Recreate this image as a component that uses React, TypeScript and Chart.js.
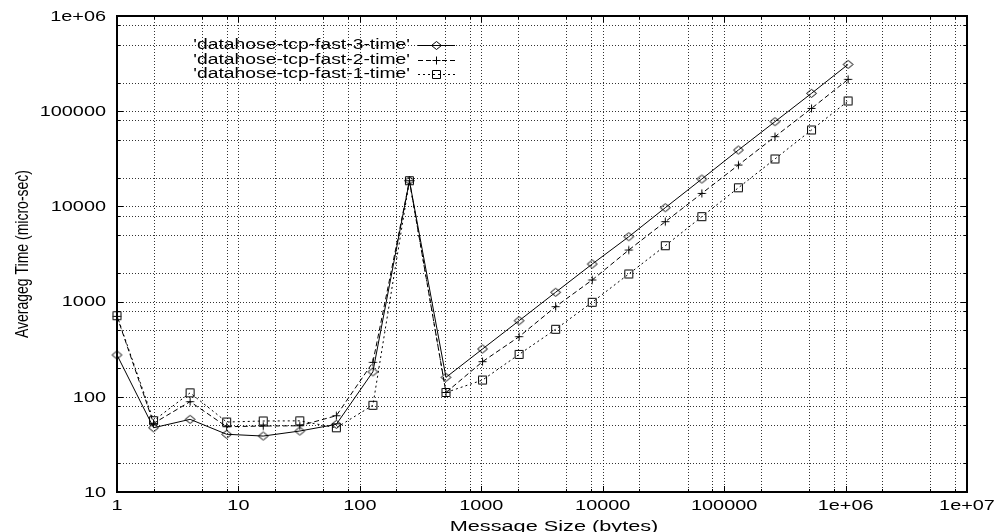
import React, { useEffect, useRef } from "react";
import { Chart, registerables } from "chart.js";

Chart.register(...registerables);

// ---- data ----
const messageSizes = [1, 2, 4, 8, 16, 32, 64, 128, 256, 512, 1024, 2048, 4096, 8192, 16384, 32768, 65536, 131072, 262144, 524288, 1048576];
const fast3Time = [275, 47.3, 58, 40.4, 38.7, 43.7, 51.4, 183, 18600, 160, 318, 630, 1253, 2480, 4800, 9690, 19400, 39100, 77600, 154000, 310000];
const fast2Time = [700, 52.6, 88.9, 48.5, 49.3, 49.6, 63.3, 230, 18600, 111, 234, 428, 885, 1687, 3480, 6910, 13700, 27200, 54000, 107000, 216000];
const fast1Time = [711, 56.1, 110, 54.3, 55.7, 55.9, 47.3, 81.5, 18600, 111, 150, 279, 512, 984, 1950, 3865, 7800, 15700, 31500, 63500, 128000];
const seriesLabels = ["'datahose-tcp-fast-3-time'", "'datahose-tcp-fast-2-time'", "'datahose-tcp-fast-1-time'"];
const xTickValues = [1, 10, 100, 1000, 10000, 100000, 1e6, 1e7];
const xTickLabels = ["1", "10", "100", "1000", "10000", "100000", "1e+06", "1e+07"];
const yTickValues = [10, 100, 1000, 10000, 100000, 1e6];
const yTickLabels = ["10", "100", "1000", "10000", "100000", "1e+06"];
const minorMultipliers = [2, 5, 8];
const xTitle = "Message Size (bytes)";
const yTitle = "Averageg Time (micro-sec)";

const FONT = '"Liberation Sans", Arial, Helvetica, sans-serif';

function makeMarker(kind: string): HTMLCanvasElement {
  const c = document.createElement("canvas");
  c.width = 13;
  c.height = 11;
  const g = c.getContext("2d")!;
  g.strokeStyle = "#000";
  g.lineWidth = 1;
  g.beginPath();
  if (kind === "diamond") {
    g.moveTo(1.5, 5.5);
    g.lineTo(6.5, 1.5);
    g.lineTo(11.5, 5.5);
    g.lineTo(6.5, 9.5);
    g.closePath();
  } else if (kind === "plus") {
    g.moveTo(2.5, 5.5);
    g.lineTo(10.5, 5.5);
    g.moveTo(6.5, 1.5);
    g.lineTo(6.5, 9.5);
  } else {
    g.rect(2.5, 1.5, 8, 8);
  }
  g.stroke();
  return c;
}

function logGrid(min: number, max: number, mults: number[]) {
  const out: { v: number; major: boolean }[] = [];
  const k0 = Math.floor(Math.log10(min));
  const k1 = Math.ceil(Math.log10(max));
  for (let k = k0; k <= k1; k++) {
    const base = Math.pow(10, k);
    for (const m of [1, ...mults]) {
      const v = m * base;
      if (v >= min * 0.999 && v <= max * 1.001) out.push({ v, major: m === 1 });
    }
  }
  return out;
}

function drawStretchedText(
  ctx: CanvasRenderingContext2D,
  text: string,
  x: number,
  y: number,
  sx: number,
  align: CanvasTextAlign,
  baseline: CanvasTextBaseline,
  size = 14
) {
  ctx.save();
  ctx.translate(x, y);
  ctx.scale(sx, 1);
  ctx.font = `${size}px ${FONT}`;
  ctx.fillStyle = "#000";
  ctx.textAlign = align;
  ctx.textBaseline = baseline;
  ctx.fillText(text, 0, 0);
  ctx.restore();
}

export default function App() {
  const canvasRef = useRef<HTMLCanvasElement | null>(null);

  useEffect(() => {
    if (!canvasRef.current) return;
    const markers = {
      diamond: makeMarker("diamond"),
      plus: makeMarker("plus"),
      square: makeMarker("square"),
    };
    const seriesStyles = [
      { marker: markers.diamond, dash: [] as number[] },
      { marker: markers.plus, dash: [5, 3] },
      { marker: markers.square, dash: [2, 3] },
    ];
    const seriesValues = [fast3Time, fast2Time, fast1Time];

    const decor = {
      id: "gnuplotDecor",
      beforeDatasetsDraw(chart: any) {
        const { ctx, chartArea: a, scales } = chart;
        const x = scales.x;
        const y = scales.y;
        ctx.save();
        ctx.strokeStyle = "rgba(0,0,0,0.8)";
        ctx.lineWidth = 1;
        ctx.setLineDash([1, 2]);
        ctx.beginPath();
        for (const t of logGrid(x.min, x.max, minorMultipliers)) {
          const px = Math.round(x.getPixelForValue(t.v)) + 0.5;
          if (px <= a.left + 1 || px >= a.right - 1) continue;
          ctx.moveTo(px, a.top);
          ctx.lineTo(px, a.bottom);
        }
        for (const t of logGrid(y.min, y.max, minorMultipliers)) {
          const py = Math.round(y.getPixelForValue(t.v)) + 0.5;
          if (py <= a.top + 1 || py >= a.bottom - 1) continue;
          ctx.moveTo(a.left, py);
          ctx.lineTo(a.right, py);
        }
        ctx.stroke();
        ctx.restore();
      },
      afterDatasetsDraw(chart: any) {
        const { ctx, chartArea: a, scales } = chart;
        const x = scales.x;
        const y = scales.y;
        ctx.save();
        // tick marks (inward, mirrored)
        ctx.strokeStyle = "#000";
        ctx.lineWidth = 1;
        ctx.setLineDash([]);
        ctx.beginPath();
        for (const t of logGrid(x.min, x.max, minorMultipliers)) {
          const px = Math.round(x.getPixelForValue(t.v)) + 0.5;
          const len = t.major ? 6 : 3;
          ctx.moveTo(px, a.bottom);
          ctx.lineTo(px, a.bottom - len);
          ctx.moveTo(px, a.top);
          ctx.lineTo(px, a.top + len);
        }
        for (const t of logGrid(y.min, y.max, minorMultipliers)) {
          const py = Math.round(y.getPixelForValue(t.v)) + 0.5;
          const len = t.major ? 6 : 3;
          ctx.moveTo(a.left, py);
          ctx.lineTo(a.left + len, py);
          ctx.moveTo(a.right, py);
          ctx.lineTo(a.right - len, py);
        }
        ctx.stroke();
        // frame
        ctx.lineWidth = 2;
        ctx.strokeRect(a.left, a.top, a.right - a.left, a.bottom - a.top);
        ctx.restore();

        // tick labels
        xTickValues.forEach((v, i) => {
          drawStretchedText(ctx, xTickLabels[i], x.getPixelForValue(v), a.bottom + 14, 1.42, "center", "middle");
        });
        yTickValues.forEach((v, i) => {
          drawStretchedText(ctx, yTickLabels[i], a.left - 11, y.getPixelForValue(v) + 1, 1.42, "right", "middle");
        });
        // axis titles
        drawStretchedText(ctx, xTitle, 554, 531, 1.55, "center", "alphabetic");
        ctx.save();
        ctx.translate(23, (a.top + a.bottom) / 2);
        ctx.rotate(-Math.PI / 2);
        ctx.scale(1, 1.3);
        ctx.font = `14px ${FONT}`;
        ctx.fillStyle = "#000";
        ctx.textAlign = "center";
        ctx.textBaseline = "middle";
        ctx.fillText(yTitle, 0, 0);
        ctx.restore();

        // key
        const rows = [45, 60, 74];
        seriesLabels.forEach((lab, i) => {
          const ry = rows[i];
          drawStretchedText(ctx, lab, 410, ry, 1.38, "right", "middle");
          ctx.save();
          ctx.strokeStyle = "#000";
          ctx.lineWidth = 1;
          ctx.setLineDash(seriesStyles[i].dash);
          ctx.beginPath();
          ctx.moveTo(418, ry + 0.5);
          ctx.lineTo(455, ry + 0.5);
          ctx.stroke();
          const m = seriesStyles[i].marker;
          ctx.drawImage(m, 436.5 - m.width / 2, ry + 0.5 - m.height / 2);
          ctx.restore();
        });
      },
    };

    const chart = new Chart(canvasRef.current, {
      type: "line",
      data: {
        datasets: seriesLabels.map((lab, i) => ({
          label: lab,
          data: messageSizes.map((s, j) => ({ x: s, y: seriesValues[i][j] })),
          borderColor: "#000",
          backgroundColor: "rgba(0,0,0,0)",
          borderWidth: 1,
          borderDash: seriesStyles[i].dash,
          pointStyle: seriesStyles[i].marker,
          pointRadius: 5,
          pointBorderColor: "#000",
          pointBackgroundColor: "rgba(0,0,0,0)",
          tension: 0,
          fill: false,
          clip: false as any,
        })),
      },
      options: {
        animation: false,
        responsive: true,
        maintainAspectRatio: false,
        layout: { padding: { left: 117, top: 16, right: 31, bottom: 40 } },
        scales: {
          x: { type: "logarithmic", min: 1, max: 1e7, display: false },
          y: { type: "logarithmic", min: 10, max: 1e6, display: false },
        },
        plugins: {
          legend: { display: false },
          tooltip: { enabled: false },
        },
      },
      plugins: [decor],
    } as any);
    return () => chart.destroy();
  }, []);

  return (
    <div style={{ position: "fixed", left: 0, top: 0, width: 998, height: 532, background: "#fff" }}>
      <canvas ref={canvasRef} />
    </div>
  );
}
